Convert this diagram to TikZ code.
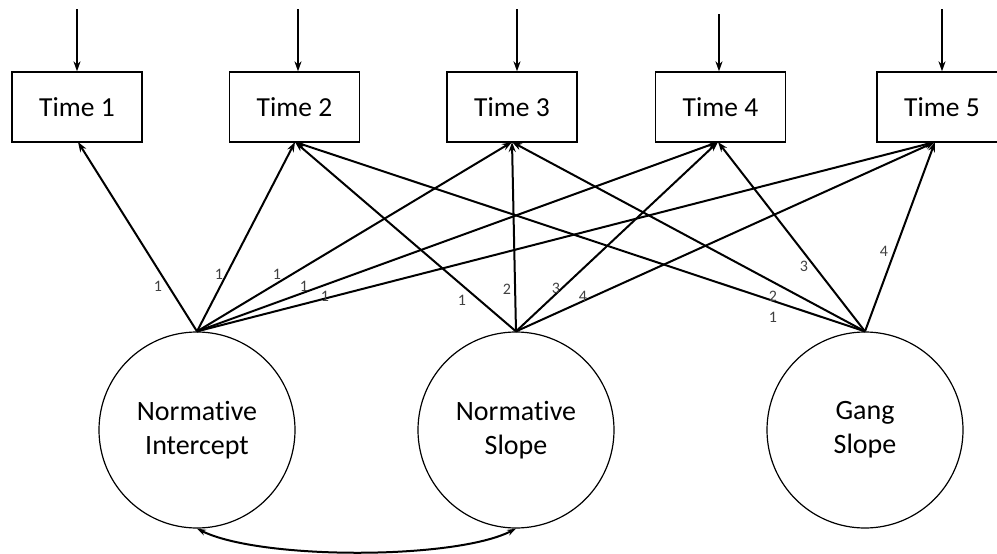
\documentclass[tikz,border=0pt]{standalone}
\usepackage{fontspec}
\setmainfont{Carlito}[Ligatures={NoCommon}]
\usetikzlibrary{arrows.meta,calc}
\begin{document}
\begin{tikzpicture}[x=1pt,y=-1pt,
  timebox/.style={draw,line width=1.3pt,minimum width=130pt,minimum height=70pt,inner sep=0pt,font=\fontsize{27.5}{31}\selectfont},
  latent/.style={draw,circle,line width=1.2pt,minimum size=196pt,inner sep=0pt,align=center,font=\fontsize{28}{34}\selectfont},
  path/.style={line width=2pt,-{Stealth[length=10pt,width=7pt]}},
  cov/.style={line width=2pt,{Stealth[length=9pt,width=6pt]}-{Stealth[length=9pt,width=6pt]}},
  lbl/.style={font=\fontsize{16}{16}\selectfont,text=black!75,inner sep=0pt}]
\useasboundingbox (0,0) rectangle (997,554);
% observed
\node[timebox] (t1) at (77,107) {Time 1};
\node[timebox] (t2) at (294.5,107) {Time 2};
\node[timebox] (t3) at (512,107) {Time 3};
\node[timebox] (t4) at (720.5,107) {Time 4};
\node[timebox] (t5) at (942,107) {Time 5};
% error inputs
\coordinate (e1) at (77,9);
\coordinate (e2) at (298,9);
\coordinate (e3) at (517,9);
\coordinate (e4) at (719,14);
\coordinate (e5) at (942,9);
\draw[path] (e1) -- (e1 |- t1.north);
\draw[path] (e2) -- (e2 |- t2.north);
\draw[path] (e3) -- (e3 |- t3.north);
\draw[path] (e4) -- (e4 |- t4.north);
\draw[path] (e5) -- (e5 |- t5.north);
% latent
\node[latent] (ni) at (197,430) {Normative\\Intercept};
\node[latent] (ns) at (516,430) {Normative\\Slope};
\node[latent] (gs) at (865,430) {Gang\\Slope};
% target points
\coordinate (a1) at (78,142);
\coordinate (a2) at (295,142);
\coordinate (a3) at (512,142);
\coordinate (a4) at (718,142);
\coordinate (a5) at (935,142);
% loadings
\foreach \k in {1,...,5} \draw[path] (ni.north) -- (a\k);
\foreach \k in {2,...,5} \draw[path] (ns.north) -- (a\k);
\foreach \k in {2,...,5} \draw[path] (gs.north) -- (a\k);
% labels
\node[lbl] (l1) at (158,286) {1};
\node[lbl] (l2) at (219,274) {1};
\node[lbl] (l3) at (277,274) {1};
\node[lbl] (l4) at (304,286) {1};
\node[lbl] (l5) at (325,296) {1};
\node[lbl] (l6) at (462,300) {1};
\node[lbl] (l7) at (507,289) {2};
\node[lbl] (l8) at (556,288) {3};
\node[lbl] (l9) at (583,296) {4};
\node[lbl] (l10) at (773,317) {1};
\node[lbl] (l11) at (773,296) {2};
\node[lbl] (l12) at (804,266) {3};
\node[lbl] (l13) at (884,251) {4};
% covariance
\draw[cov] (ni.south) .. controls (260,560) and (455,560) .. (ns.south);
\end{tikzpicture}
\end{document}
